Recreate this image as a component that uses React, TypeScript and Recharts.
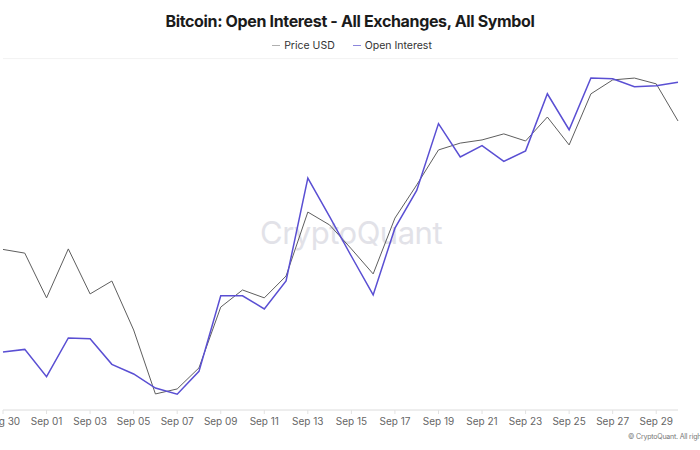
import React from 'react';
import { LineChart, Line, XAxis, YAxis, CartesianGrid } from 'recharts';

const dates = [
  'Aug 30', 'Aug 31', 'Sep 01', 'Sep 02', 'Sep 03', 'Sep 04', 'Sep 05', 'Sep 06',
  'Sep 07', 'Sep 08', 'Sep 09', 'Sep 10', 'Sep 11', 'Sep 12', 'Sep 13', 'Sep 14',
  'Sep 15', 'Sep 16', 'Sep 17', 'Sep 18', 'Sep 19', 'Sep 20', 'Sep 21', 'Sep 22',
  'Sep 23', 'Sep 24', 'Sep 25', 'Sep 26', 'Sep 27', 'Sep 28', 'Sep 29', 'Sep 30'
];

// BTC price, USD
const priceUsd = [
  59400, 59260, 57560, 59420, 57710, 58200, 56340, 53910,
  54100, 54900, 57210, 57860, 57560, 58390, 60820, 60330,
  59420, 58470, 60590, 61850, 63180, 63440, 63560, 63790,
  63520, 64430, 63370, 65310, 65840, 65910, 65690, 64280
];

// open interest, USD billions
const openInterest = [
  16.66, 16.69, 16.38, 16.82, 16.81, 16.52, 16.41, 16.25,
  16.18, 16.44, 17.3, 17.3, 17.15, 17.47, 18.64, 18.2,
  17.75, 17.31, 18.07, 18.5, 19.26, 18.88, 19.01, 18.83,
  18.95, 19.6, 19.19, 19.78, 19.77, 19.68, 19.69, 19.73
];

const gridTicks = [0, 1, 2, 3, 4, 5, 6, 7, 8];

const data = dates.map((d, i) => ({
  date: d,
  price: priceUsd[i],
  oi: openInterest[i]
}));

const PRICE_COLOR = '#5e5e5e';
const OI_COLOR = '#5a4fd3';

export default function App() {
  return (
    <div
      style={{
        position: 'absolute',
        left: 0,
        top: 0,
        width: 700,
        height: 450,
        overflow: 'hidden',
        background: '#fff',
        fontFamily: 'Inter, sans-serif'
      }}
    >
      <div
        style={{
          position: 'absolute',
          top: 11,
          width: 700,
          textAlign: 'center',
          fontSize: 16,
          fontWeight: 700,
          color: '#1b1b1b',
          letterSpacing: -0.35
        }}
      >
        Bitcoin: Open Interest - All Exchanges, All Symbol
      </div>
      <div
        style={{
          position: 'absolute',
          top: 39,
          left: 2,
          width: 700,
          display: 'flex',
          justifyContent: 'center',
          gap: 18,
          fontSize: 10.5,
          color: '#333'
        }}
      >
        <span style={{ display: 'flex', alignItems: 'center' }}>
          <span style={{ width: 8, height: 1.5, background: '#b0b0b0', marginRight: 4 }} />
          Price USD
        </span>
        <span style={{ display: 'flex', alignItems: 'center' }}>
          <span style={{ width: 8, height: 1.5, background: '#8c86dc', marginRight: 4 }} />
          Open Interest
        </span>
      </div>
      <div
        style={{
          position: 'absolute',
          left: 260,
          top: 214,
          fontSize: 31,
          color: '#e2e2e8',
          letterSpacing: -0.5
        }}
      >
        CryptoQuant
      </div>
      <div style={{ position: 'absolute', left: 0, top: 0 }}>
        <LineChart
          width={700}
          height={450}
          data={data}
          margin={{ top: 58.6, right: 22, bottom: 10, left: 3 }}
        >
          <CartesianGrid vertical={false} stroke="#f2f2f2" yAxisId="grid" />
          <XAxis
            dataKey="date"
            interval={1}
            height={30}
            tickSize={4}
            tickMargin={4}
            axisLine={{ stroke: '#e2e2e2' }}
            tickLine={{ stroke: '#e2e2e2' }}
            tick={{ fontSize: 10, fill: '#666' }}
          />
          <YAxis yAxisId="grid" hide domain={[-0.288, 8]} ticks={gridTicks} type="number" />
          <YAxis yAxisId="price" hide domain={[53300, 66650]} />
          <YAxis yAxisId="oi" hide orientation="right" domain={[16, 20]} />
          <Line
            yAxisId="price"
            dataKey="price"
            stroke={PRICE_COLOR}
            strokeWidth={1}
            dot={false}
            type="linear"
            isAnimationActive={false}
          />
          <Line
            yAxisId="oi"
            dataKey="oi"
            stroke={OI_COLOR}
            strokeWidth={1.5}
            dot={false}
            type="linear"
            isAnimationActive={false}
          />
        </LineChart>
      </div>
      <div
        style={{
          position: 'absolute',
          left: 628,
          top: 432,
          fontSize: 7,
          color: '#777',
          letterSpacing: -0.2,
          whiteSpace: 'nowrap'
        }}
      >
        © CryptoQuant. All rights reserved.
      </div>
    </div>
  );
}
